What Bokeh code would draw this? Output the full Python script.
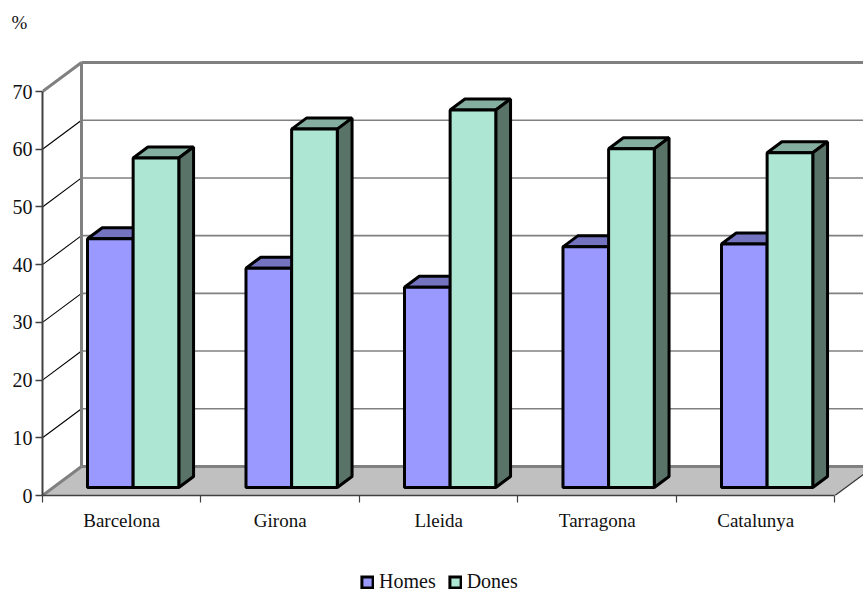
from bokeh.plotting import figure
from bokeh.embed import file_html
from bokeh.resources import INLINE
from bokeh.layouts import column
from bokeh.models import Range1d, LinearAxis, FixedTicker, Legend, LegendItem, Title

categories = ["Barcelona", "Girona", "Lleida", "Tarragona", "Catalunya"]
homes = [43.1, 38.0, 34.7, 41.7, 42.2]
dones = [57.1, 62.1, 65.4, 58.7, 58.0]
y_ticks = [0, 10, 20, 30, 40, 50, 60, 70]
series_names = ["Homes", "Dones"]
front_colors = ["#9999FF", "#ADE7D3"]
top_colors = ["#7373BF", "#84AE9F"]
side_colors = ["#4D4D80", "#5A7368"]

FONT = "Liberation Serif"
DX, DY = 0.246, 5.03         # wall depth in category units / percent
Z0, Z1 = 0.276, 0.655        # bar depth range as a share of the wall depth
BAR_START, BAR_W = 0.216, 0.288
X_MAX = 5.0

def pt(x, y, z=0.0):
    return (x + z * DX, y + z * DY)

def poly(*pts):
    return [q[0] for q in pts], [q[1] for q in pts]

p = figure(width=863, height=545, output_backend="svg", toolbar_location=None,
           x_range=Range1d(0, 5.18), y_range=Range1d(0, 79.71),
           x_axis_type=None, y_axis_type=None,
           min_border_left=42, min_border_right=0, min_border_top=35, min_border_bottom=50)
p.grid.visible = False
p.outline_line_color = None
p.background_fill_color = "white"

p.title = Title(text="%", align="left", offset=-31, standoff=6, text_font=FONT,
                text_font_size="19px", text_font_style="normal", text_color="#111111")

# floor
fx, fy = poly(pt(0, 0), pt(X_MAX, 0), pt(X_MAX, 0, 1), pt(0, 0, 1))
p.patch(fx, fy, fill_color="#C0C0C0", line_color=None)

# back wall and side wall gridlines
for t in y_ticks:
    major = t in (0, 70)
    x0, y0 = pt(0, t)
    x1, y1 = pt(0, t, 1)
    x2, y2 = pt(X_MAX + 1, t, 1)
    p.line([x1, x2], [y1, y2], line_color="#808080", line_width=3 if major else 1.6)
    p.line([x0, x1], [y0, y1], line_color="#808080" if major else "black",
           line_width=3 if major else 1.1)
x1, y1 = pt(0, 0, 1)
x2, y2 = pt(0, 70, 1)
p.line([x1, x2], [y1, y2], line_color="#808080", line_width=3)
x1, y1 = pt(X_MAX, 0)
x2, y2 = pt(X_MAX, 0, 1)
p.line([x1, x2], [y1, y2], line_color="#333333", line_width=1.2)

def bar(left, val):
    right = left + BAR_W
    base = 0.0
    t = poly(pt(left, val, Z0), pt(right, val, Z0), pt(right, val, Z1), pt(left, val, Z1))
    s = poly(pt(right, base, Z0), pt(right, val, Z0), pt(right, val, Z1), pt(right, base, Z1))
    f = poly(pt(left, base, Z0), pt(right, base, Z0), pt(right, val, Z0), pt(left, val, Z0))
    return t, s, f

kw = dict(line_color="black", line_width=3, line_join="bevel")
for i in range(len(categories)):
    for k, series in enumerate((homes, dones)):
        left = i + BAR_START + k * BAR_W
        t, s, f = bar(left, series[i])
        p.patch(t[0], t[1], fill_color=top_colors[k], **kw)
        p.patch(s[0], s[1], fill_color=side_colors[k], **kw)
        p.patch(f[0], f[1], fill_color=front_colors[k], **kw)

# axes
yax = LinearAxis(ticker=FixedTicker(ticks=y_ticks), bounds=(0, 70))
yax.axis_line_color = "#404040"
yax.axis_line_width = 2
yax.major_tick_line_color = "#404040"
yax.major_tick_line_width = 1.5
yax.major_tick_in = 0
yax.major_tick_out = 7
yax.minor_tick_line_color = None
yax.major_label_text_font = FONT
yax.major_label_text_font_size = "20px"
yax.major_label_text_color = "#111111"
yax.major_label_standoff = 3
p.add_layout(yax, "left")

centers = [i + 0.5 for i in range(len(categories))]
xax = LinearAxis(ticker=FixedTicker(ticks=centers, minor_ticks=list(range(len(categories) + 1))),
                 bounds=(0, X_MAX))
xax.major_label_overrides = {c: n for c, n in zip(centers, categories)}
xax.axis_line_color = "#404040"
xax.axis_line_width = 1.6
xax.major_tick_line_color = None
xax.minor_tick_line_color = "#404040"
xax.minor_tick_line_width = 1.2
xax.minor_tick_in = 0
xax.minor_tick_out = 7
xax.major_label_text_font = FONT
xax.major_label_text_font_size = "19px"
xax.major_label_text_color = "#111111"
xax.major_label_standoff = 7
p.add_layout(xax, "below")

# legend strip below the chart
p2 = figure(width=863, height=46, output_backend="svg", toolbar_location=None,
            x_range=Range1d(0, 821), y_range=Range1d(0, 46),
            x_axis_type=None, y_axis_type=None,
            min_border_left=0, min_border_right=0, min_border_top=0, min_border_bottom=0)
p2.grid.visible = False
p2.outline_line_color = None
items = []
for k, name in enumerate(series_names):
    r = p2.patch([-20, -10, -10], [-20, -20, -10], fill_color=front_colors[k],
                 line_color="black", line_width=3, line_join="miter")
    items.append(LegendItem(label=name, renderers=[r]))
legend = Legend(items=items, orientation="horizontal", location=(318, -2),
                border_line_color=None, background_fill_alpha=0,
                glyph_width=14, glyph_height=14, label_height=14, label_standoff=5, spacing=12,
                padding=0, margin=0,
                label_text_font=FONT, label_text_font_size="20px", label_text_color="#111111")
p2.add_layout(legend, "center")

root = column(p, p2, spacing=0, styles={"position": "absolute", "left": "0px", "top": "0px"})
open("out.html", "w").write(file_html(root, INLINE))
